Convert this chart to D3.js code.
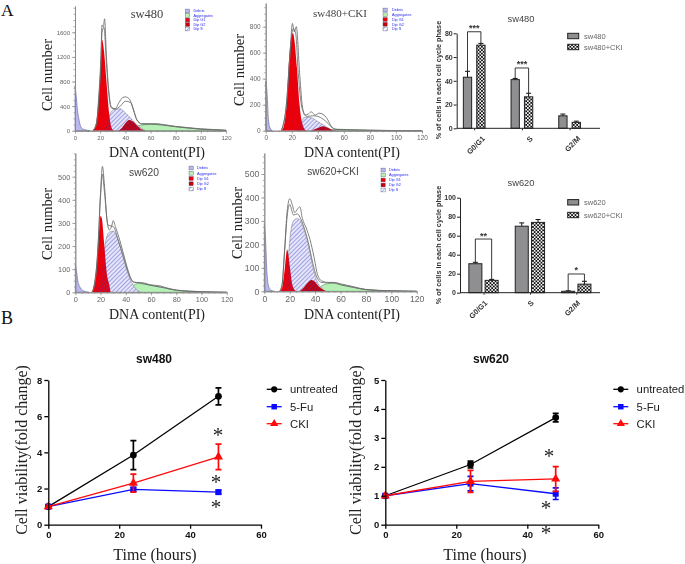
<!DOCTYPE html>
<html><head><meta charset="utf-8">
<script src="https://cdn.jsdelivr.net/npm/d3@7"></script>
<style>html,body{margin:0;padding:0;background:#fff}svg{display:block}</style>
</head><body><svg id="c" width="685" height="564"></svg>
<script>
// ---------- DATA ----------
const histLegend = ["Debris","Aggregates","Dip G1","Dip G2","Dip S"];
const a_debris=[[0,730],[1,560],[2,330],[3,200],[5,50],[8,15],[12,0]];
const a_g1=[[14,0],[16,60],[18,320],[20,900],[21.5,1480],[23,1300],[25,800],[27,300],[29,50],[31,0]];
const a_g2=[[34,0],[37,40],[40,120],[43,175],[46,150],[50,70],[54,10],[56,0]];
const a_s=[[23,0],[26,170],[28,280],[31,345],[36,355],[40,290],[44,210],[48,120],[52,50],[56,0]];
const a_agg=[[45,0],[50,80],[56,100],[64,115],[72,90],[80,65],[90,45],[100,25],[110,15],[120,5]];
const a_raw=[[14,0],[17,120],[19,600],[20.5,1150],[21.5,1720],[22.5,1690],[23.5,1820],[25,1200],[27,620],[29,380],[32,360],[35,460],[38,540],[40,550],[43,520],[46,380],[49,180],[53,115],[60,115],[70,100],[80,70],[90,50],[100,30],[110,20],[120,8]];
const a_fit=[[14,0],[17,100],[19,520],[20.5,1050],[21.5,1600],[23,1680],[25,1080],[27,560],[29,370],[32,350],[36,400],[40,480],[44,460],[47,300],[50,150],[54,105],[60,105],[70,90],[80,65],[100,25],[120,5]];
const b_debris=[[0,380],[1,300],[2,100],[3,30],[5,0]];
const b_g1=[[12,0],[14,40],[16,200],[18,550],[20,740],[21,750],[22,700],[24,480],[26,200],[28,60],[31,0]];
const b_g2=[[35,0],[40,20],[44,35],[48,20],[52,0]];
const b_s=[[24,0],[27,60],[30,105],[35,100],[40,70],[45,40],[50,10],[54,0]];
const b_agg=[[48,0],[55,12],[60,10],[80,4],[100,1],[120,0]];
const b_raw=[[12,0],[16,220],[19,650],[20.5,825],[22,760],[23.5,800],[26,450],[28,200],[30,120],[33,130],[35,145],[38,120],[41,135],[44,125],[47,95],[50,40],[54,10],[60,8],[80,3],[120,0]];
const b_fit=[[12,0],[16,205],[19,630],[21,785],[23,750],[25,440],[28,170],[32,110],[36,115],[40,110],[44,90],[48,55],[52,15],[56,8],[80,3],[120,0]];
const c_debris=[[0,120],[1,90],[2,50],[4,20],[7,5],[11,0]];
const c_g1=[[13,0],[15,30],[17,120],[19,280],[20,330],[21,320],[23,200],[25,80],[27,30],[28,0]];
const c_g2=[[13,0],[20,2],[28,0]];
const c_s=[[15,0],[20,50],[24,220],[27,260],[30,265],[33,240],[36,190],[40,110],[44,50],[48,15],[52,0]];
const c_agg=[[38,0],[42,20],[46,30],[50,38],[60,30],[70,20],[80,8],[100,2],[120,0]];
const c_raw=[[13,0],[16,60],[18,200],[20,430],[21.5,545],[23,470],[25,320],[27,270],[29,290],[30,310],[32,280],[35,230],[38,170],[41,110],[44,60],[47,42],[52,42],[60,32],[67,28],[72,20],[80,10],[100,3],[120,0]];
const c_fit=[[14,5],[18,195],[20,415],[21.5,510],[23,440],[26,290],[30,285],[34,225],[38,155],[42,85],[46,45],[52,40],[60,30],[70,20],[80,9],[100,2],[120,0]];
const d_debris=[[0,290],[1,220],[2,90],[3,30],[5,5],[8,0]];
const d_g1=[[12,0],[14,15],[16,90],[18,178],[20,110],[22,30],[24,5],[25,0]];
const d_g2=[[28,0],[31,15],[34,35],[37,48],[40,40],[43,20],[47,5],[49,0]];
const d_s=[[17,0],[19,150],[21,260],[23,300],[26,310],[29,295],[32,250],[35,190],[38,110],[41,50],[44,20],[48,0]];
const d_agg=[[38,0],[43,15],[48,30],[54,35],[60,28],[70,17],[80,7],[90,3],[100,2],[120,0]];
const d_raw=[[12,0],[14,30],[16,180],[18,340],[20,395],[22,370],[24,335],[26,350],[28,360],[30,310],[33,270],[36,220],[39,150],[42,70],[45,45],[50,38],[55,38],[60,32],[70,20],[80,8],[100,2],[120,0]];
const d_fit=[[12,0],[14,25],[16,170],[18,320],[20,370],[23,325],[26,330],[29,305],[32,260],[35,200],[38,125],[41,65],[45,38],[50,36],[55,36],[60,28],[70,17],[80,7],[100,2],[120,0]];

const phases=["G0/G1","S","G2/M"];
const bar480=[43,41,10.5], bar480Err=[5,1,1.5];
const bar480Cki=[70,26.5,5], bar480CkiErr=[1.5,3,1];
const bar620=[30.5,70,1.5], bar620Err=[1.5,3.5,0.5];
const bar620Cki=[13,74,9], bar620CkiErr=[1,3,3];
const sig480=[["G0/G1",81.3,"***"],["S",50.8,"***"]];
const sig620=[["G0/G1",56.5,"**"],["G2/M",19.7,"*"]];

const hours=[0,24,48];
const v480Untreated=[1,3.85,7.1], e480Untreated=[0,0.8,0.47];
const v480Fu=[1,1.95,1.8], e480Fu=[0,0.1,0.1];
const v480Cki=[1,2.3,3.75], e480Cki=[0,0.5,0.7];
const v620Untreated=[1,2.08,3.7], e620Untreated=[0,0.12,0.15];
const v620Fu=[1,1.42,1.07], e620Fu=[0,0.25,0.2];
const v620Cki=[1,1.5,1.58], e620Cki=[0,0.38,0.43];
const seriesNames=["untreated","5-Fu","CKI"];
const stars480=[[47.9,5.14],[47.3,2.52],[47.3,1.14]];
const stars620=[[46.1,2.48],[45.3,0.68],[45.3,-0.18]];

// ---------- SETUP ----------
const SERIF='"Liberation Serif",serif', SANS='"Liberation Sans",Arial,sans-serif';
const svg=d3.select("#c");
const defs=svg.append("defs");
defs.append("filter").attr("id","soft").attr("x","-5%").attr("y","-5%").attr("width","110%").attr("height","110%")
  .append("feGaussianBlur").attr("stdDeviation",0.5);
const hatch=defs.append("pattern").attr("id","hatch").attr("width",3).attr("height",3)
  .attr("patternUnits","userSpaceOnUse").attr("patternTransform","rotate(45)");
hatch.append("line").attr("x1",0).attr("x2",0).attr("y1",0).attr("y2",3).attr("stroke","#3b3bbe").attr("stroke-width",1.1).attr("stroke-opacity",.75);
const check=defs.append("pattern").attr("id","check").attr("width",3.4).attr("height",3.4).attr("patternUnits","userSpaceOnUse");
check.append("rect").attr("width",3.4).attr("height",3.4).attr("fill","#f4f4f4");
check.append("rect").attr("width",1.7).attr("height",1.7).attr("fill","#111");
check.append("rect").attr("x",1.7).attr("y",1.7).attr("width",1.7).attr("height",1.7).attr("fill","#111");

const gA=svg.append("g").attr("filter","url(#soft)");
const gB=svg.append("g").attr("opacity",.999);

function txt(g,s,x,y,o={}){
  const t=g.append("text").text(s).attr("x",x).attr("y",y)
    .attr("font-family",o.family||SANS).attr("font-size",o.size||10)
    .attr("fill",o.fill||"#000").attr("text-anchor",o.anchor||"middle");
  if(o.weight)t.attr("font-weight",o.weight);
  if(o.rotate!==undefined)t.attr("transform",`rotate(${o.rotate} ${x} ${y})`);
  return t;
}

// ---------- A: histograms ----------
function hist(p){
  const x=d3.scaleLinear().domain([0,120]).range([p.x0,p.x1]);
  const y=d3.scaleLinear().domain([0,p.yMark]).range([p.y0,p.yMarkPx]);
  const g=gA.append("g");
  const area=d3.area().x(d=>x(d[0])).y0(y(0)).y1(d=>y(d[1])).curve(d3.curveMonotoneX);
  const line=d3.line().x(d=>x(d[0])).y(d=>y(d[1])).curve(d3.curveMonotoneX);
  g.append("path").attr("d",area(p.agg)).attr("fill","#b6f0b6").attr("stroke","#3a7a3a").attr("stroke-width",.5);
  g.append("path").attr("d",area(p.debris)).attr("fill","#b9b9f0").attr("stroke","#44447a").attr("stroke-width",.5);
  g.append("path").attr("d",area(p.s)).attr("fill","#e6e6fa").attr("stroke","#777").attr("stroke-width",.5);
  g.append("path").attr("d",area(p.g1)).attr("fill","#e8000c");
  g.append("path").attr("d",area(p.g2)).attr("fill","#c4000a");
  g.append("path").attr("d",area(p.s)).attr("fill","url(#hatch)");
  g.append("path").attr("d",line(p.raw)).attr("fill","none").attr("stroke","#808080").attr("stroke-width",1);
  g.append("path").attr("d",line(p.fit)).attr("fill","none").attr("stroke","#666").attr("stroke-width",.8);
  const yTop=y.invert(p.top);
  const style=a=>{a.selectAll("path,line").attr("stroke","#8a8a8a").attr("stroke-width",.7);
    a.selectAll("text").attr("font-family",SANS).attr("font-size",p.tick).attr("fill","#666");a.select(".domain").attr("stroke-width",.9)};
  const yAxisScale=d3.scaleLinear().domain([0,yTop]).range([p.y0,p.top]);
  g.append("g").attr("transform",`translate(${p.x0},0)`)
    .call(d3.axisLeft(yAxisScale).tickValues(d3.range(0,yTop,p.minorY)).tickFormat("").tickSize(1.5).tickSizeOuter(0)).call(style);
  g.append("g").attr("transform",`translate(${p.x0},0)`)
    .call(d3.axisLeft(yAxisScale).tickValues(d3.range(0,p.labelMax+1,p.majorY)).tickFormat(d3.format("d")).tickSize(3).tickPadding(2).tickSizeOuter(0)).call(style);
  g.append("g").attr("transform",`translate(0,${p.y0})`)
    .call(d3.axisBottom(x).tickValues(d3.range(0,121,5)).tickFormat("").tickSize(1.5).tickSizeOuter(0)).call(style);
  g.append("g").attr("transform",`translate(0,${p.y0})`)
    .call(d3.axisBottom(x).tickValues(d3.range(0,121,20)).tickFormat(d3.format("d")).tickSize(3).tickPadding(2).tickSizeOuter(0)).call(style);
  txt(g,p.title,p.tx,p.ty,{family:p.titleFamily,size:p.titleSize,fill:"#444"});
  txt(gA,"Cell number",p.cnx,p.cny,{family:SERIF,size:14.5,fill:"#222",rotate:-90});
  txt(gA,"DNA content(PI)",p.dx,p.dy,{family:SERIF,size:14,fill:"#222"});
  const fills=["#b9b9f0","#b6f0b6","#e8000c","#c4000a","url(#hatch)"];
  const rows=d3.scalePoint().domain(histLegend).range(p.lgY);
  histLegend.forEach((n,i)=>{
    g.append("rect").attr("x",p.lgX).attr("y",rows(n)-1.9).attr("width",4.2).attr("height",3.8)
      .attr("fill",fills[i]).attr("stroke","#557").attr("stroke-width",.4);
    txt(g,n,p.lgX+p.lgT,rows(n)+1.3,{size:3.8,fill:"#2a2af0",anchor:"start"});
  });
}
hist({x0:75,x1:226,y0:130.7,yMark:1600,yMarkPx:32.3,top:6,majorY:400,minorY:100,labelMax:1600,tick:6,
  debris:a_debris,g1:a_g1,g2:a_g2,s:a_s,agg:a_agg,raw:a_raw,fit:a_fit,
  title:"sw480",tx:147,ty:18,titleFamily:SERIF,titleSize:12.5,cnx:52,cny:75,dx:157,dy:157,
  lgX:185.5,lgY:[11,29],lgT:8});
hist({x0:265.7,x1:422,y0:130.7,yMark:800,yMarkPx:26.7,top:3,majorY:200,minorY:50,labelMax:800,tick:6.5,
  debris:b_debris,g1:b_g1,g2:b_g2,s:b_s,agg:b_agg,raw:b_raw,fit:b_fit,
  title:"sw480+CKI",tx:340,ty:17,titleFamily:SERIF,titleSize:11,cnx:244,cny:70,dx:352,dy:157,
  lgX:383,lgY:[10,29],lgT:9});
hist({x0:75.3,x1:226.7,y0:292.3,yMark:500,yMarkPx:176.7,top:153,majorY:100,minorY:25,labelMax:500,tick:7.3,
  debris:c_debris,g1:c_g1,g2:c_g2,s:c_s,agg:c_agg,raw:c_raw,fit:c_fit,
  title:"sw620",tx:144,ty:176,titleFamily:SANS,titleSize:10.3,cnx:52,cny:224,dx:157,dy:319,
  lgX:189,lgY:[168,189],lgT:8});
hist({x0:264.3,x1:416.7,y0:291.3,yMark:500,yMarkPx:174,top:153,majorY:100,minorY:25,labelMax:500,tick:8.7,
  debris:d_debris,g1:d_g1,g2:d_g2,s:d_s,agg:d_agg,raw:d_raw,fit:d_fit,
  title:"sw620+CKI",tx:333,ty:175,titleFamily:SANS,titleSize:10,cnx:242,cny:223,dx:352,dy:319,
  lgX:381,lgY:[170,190],lgT:8});

// ---------- A: bar charts ----------
function bars(p){
  const x=d3.scalePoint().domain(phases).range(p.centers);
  const sub=d3.scaleBand().domain([0,1]).range([-p.span/2,p.span/2]).paddingInner(p.gap);
  const y=d3.scaleLinear().domain(p.domain).range([p.y0,p.y1]);
  const g=gA.append("g");
  const cols=[p.a,p.b],errs=[p.ae,p.be],fills=["#8f8f92","url(#check)"];
  cols.forEach((vals,k)=>{
    phases.forEach((ph,i)=>{
      const bx=x(ph)+sub(k),w=sub.bandwidth(),cx=bx+w/2;
      g.append("line").attr("x1",cx).attr("x2",cx).attr("y1",y(vals[i])).attr("y2",y(vals[i]+errs[k][i])).attr("stroke","#111").attr("stroke-width",1);
      g.append("line").attr("x1",cx-2.5).attr("x2",cx+2.5).attr("y1",y(vals[i]+errs[k][i])).attr("y2",y(vals[i]+errs[k][i])).attr("stroke","#111").attr("stroke-width",1);
      g.append("rect").attr("x",bx).attr("y",y(vals[i])).attr("width",w).attr("height",y(0)-y(vals[i]))
        .attr("fill",fills[k]).attr("stroke","#222").attr("stroke-width",1);
    });
  });
  p.sig.forEach(([ph,lvl,st])=>{
    const i=phases.indexOf(ph);
    const xa=x(ph)+sub(0)+sub.bandwidth()/2,xb=x(ph)+sub(1)+sub.bandwidth()/2;
    const ya=y(p.a[i]+p.ae[i]),yb=y(p.b[i]+p.be[i]);
    g.append("path").attr("d",`M${xa},${ya}V${y(lvl)}H${xb}V${yb}`).attr("fill","none").attr("stroke","#222").attr("stroke-width",.9);
    txt(g,st,(xa+xb)/2,y(lvl)-.5,{size:9,weight:"bold",fill:"#333"});
  });
  const st=a=>{a.selectAll("path,line").attr("stroke","#222").attr("stroke-width",1);
    a.selectAll("text").attr("font-family",SANS).attr("font-size",7).attr("font-weight","bold").attr("fill","#333")};
  g.append("g").attr("transform",`translate(${p.ax},0)`)
    .call(d3.axisLeft(y).tickValues(p.ticks).tickSize(3).tickPadding(1).tickSizeOuter(0)).call(st);
  const ax=g.append("g").attr("transform",`translate(0,${p.y0})`)
    .call(d3.axisBottom(x).tickSize(2).tickSizeOuter(0)).call(st);
  ax.select(".domain").attr("d",`M${p.ax},0H${p.xEnd}`);
  ax.selectAll("text").attr("text-anchor","end").attr("x",0).attr("y",0).attr("dy",".35em").attr("font-size",7.5)
    .attr("transform",`translate(${p.lblDx},9) rotate(-45)`);
  txt(g,"% of cells in each cell cycle phase",p.ylx,p.yly,{size:7.3,weight:"bold",fill:"#333",rotate:-90});
  txt(g,p.title,p.tx,p.ty,{size:9.3,fill:"#444"});
  p.legY.forEach((ly,i)=>{
    g.append("rect").attr("x",567.7).attr("y",ly-2.7).attr("width",11).attr("height",5.4).attr("fill",fills[i]).attr("stroke","#222").attr("stroke-width",1);
    txt(g,p.legend[i],584,ly+2.6,{size:7.5,fill:"#666",anchor:"start"});
  });
}
bars({centers:[474.2,569.6],span:21.7,gap:.38,domain:[0,80],y0:128.3,y1:33.3,ax:456.7,xEnd:600,ticks:[0,20,40,60,80],lblDx:9,
  a:bar480,ae:bar480Err,b:bar480Cki,be:bar480CkiErr,sig:sig480,
  ylx:441,yly:80,title:"sw480",tx:521,ty:22,legY:[36,47],legend:["sw480","sw480+CKI"]});
bars({centers:[483.5,576.3],span:29.3,gap:.2,domain:[0,100],y0:292.7,y1:197.7,ax:460,xEnd:600,ticks:[0,20,40,60,80,100],lblDx:2,
  a:bar620,ae:bar620Err,b:bar620Cki,be:bar620CkiErr,sig:sig620,
  ylx:441,yly:245,title:"sw620",tx:521,ty:186,legY:[202.3,215],legend:["sw620","sw620+CKI"]});

// ---------- B: line charts ----------
const lineColors=["#000","#0a0aff","#ff0a0a"];
const symbols=[d3.symbolCircle,d3.symbolSquare,d3.symbolTriangle];
function lines(p){
  const x=d3.scaleLinear().domain([0,60]).range([p.x0,p.x1]);
  const y=d3.scaleLinear().domain([0,p.yMax]).range([524.7,380]);
  const g=gB.append("g");
  const ln=d3.line().x((d,i)=>x(hours[i])).y(d=>y(d));
  p.vals.forEach((vals,k)=>{
    const c=lineColors[k];
    g.append("path").attr("d",ln(vals)).attr("fill","none").attr("stroke",c).attr("stroke-width",1.3);
    vals.forEach((v,i)=>{
      const e=p.errs[k][i],h=hours[i];
      if(e>0){
        g.append("path").attr("d",`M${x(h)-3},${y(v+e)}H${x(h)+3}M${x(h)},${y(v+e)}V${y(v-e)}M${x(h)-3},${y(v-e)}H${x(h)+3}`)
          .attr("fill","none").attr("stroke",c).attr("stroke-width",1.7);
      }
      g.append("path").attr("d",d3.symbol(symbols[k],36)()).attr("transform",`translate(${x(h)},${y(v)})`).attr("fill",c);
    });
  });
  const st=a=>{a.selectAll("path,line").attr("stroke","#000").attr("stroke-width",1.3);
    a.selectAll("text").attr("font-family",SANS).attr("font-size",9.5).attr("font-weight","bold").attr("fill","#111")};
  g.append("g").attr("transform",`translate(${p.x0},0)`)
    .call(d3.axisLeft(y).ticks(p.yMax===8?4:5).tickSize(4).tickPadding(2).tickSizeOuter(0)).call(st);
  g.append("g").attr("transform","translate(0,524.7)")
    .call(d3.axisBottom(x).tickValues([0,20,40,60]).tickSize(4).tickPadding(3).tickSizeOuter(0)).call(st);
  txt(g,p.title,p.tx,362.5,{size:12,weight:"bold",fill:"#111"});
  txt(g,"Cell viability(fold change)",p.ylx,450,{family:SERIF,size:16,fill:"#222",rotate:-90});
  txt(g,"Time (hours)",p.xlx,560,{family:SERIF,size:16,fill:"#222"});
  p.stars.forEach(s=>txt(g,"*",x(s[0]),y(s[1])+10,{family:SERIF,size:21,fill:"#222"}));
  seriesNames.forEach((n,k)=>{
    const ly=[389.3,406.7,423.7][k];
    g.append("line").attr("x1",p.lg).attr("x2",p.lg+15).attr("y1",ly).attr("y2",ly).attr("stroke",lineColors[k]).attr("stroke-width",1.3);
    g.append("path").attr("d",d3.symbol(symbols[k],30)()).attr("transform",`translate(${p.lg+7.5},${ly})`).attr("fill",lineColors[k]);
    txt(g,n,p.lg+23.3,ly+3.8,{size:11.3,fill:"#222",anchor:"start"});
  });
}
lines({x0:48.3,x1:261,yMax:8,vals:[v480Untreated,v480Fu,v480Cki],errs:[e480Untreated,e480Fu,e480Cki],
  title:"sw480",tx:154,ylx:27,xlx:155,stars:stars480,lg:266.7});
lines({x0:385.3,x1:598.3,yMax:5,vals:[v620Untreated,v620Fu,v620Cki],errs:[e620Untreated,e620Fu,e620Cki],
  title:"sw620",tx:491,ylx:361,xlx:485,stars:stars620,lg:613.3});

// panel letters
txt(svg,"A",1,16,{family:SERIF,size:17.5,anchor:"start",fill:"#111"});
txt(svg,"B",1,324,{family:SERIF,size:18,anchor:"start",fill:"#111"});
</script>
</body></html>
